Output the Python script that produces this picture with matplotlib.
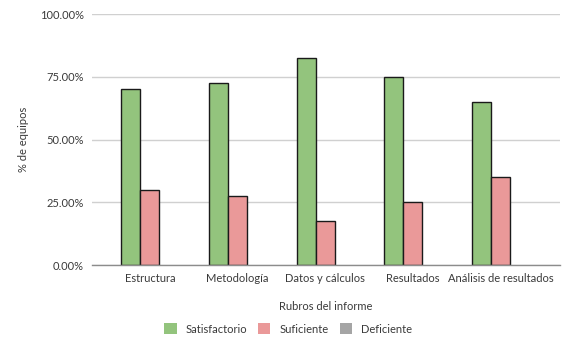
import matplotlib
matplotlib.use("Agg")
import matplotlib.pyplot as plt
from matplotlib.patches import Patch
from matplotlib.ticker import FuncFormatter
import numpy as np

plt.rcParams['font.family'] = ['Lato', 'DejaVu Sans']

categories = ['Estructura', 'Metodología', 'Datos y cálculos', 'Resultados',
              'Análisis de resultados']
series_names = ['Satisfactorio', 'Suficiente', 'Deficiente']
satisfactorio = [70.0, 72.5, 82.5, 75.0, 65.0]
suficiente = [30.0, 27.5, 17.5, 25.0, 35.0]
deficiente = [0.0, 0.0, 0.0, 0.0, 0.0]
colors = ['#93c47d', '#ea9999', '#a5a5a5']

fig = plt.figure(figsize=(5.67, 3.46), dpi=100)
ax = fig.add_axes([0.1623, 0.2341, 0.8254, 0.7254])

x = np.arange(len(categories))
width = 0.217
for i, vals in enumerate([satisfactorio, suficiente, deficiente]):
    # empty bars draw no outline
    lw = [1.0 if v > 0 else 0 for v in vals]
    ax.bar(x + (i - 1) * width, vals, width, color=colors[i],
           edgecolor='#1a1a1a', linewidth=lw, zorder=3)

ax.set_xlim(-0.66, 4.68)
ax.set_ylim(0, 100)
ax.set_yticks([0, 25, 50, 75, 100])
ax.yaxis.set_major_formatter(FuncFormatter(lambda v, p: '{:.2f}%'.format(v)))
ax.set_xticks(x)
ax.set_xticklabels(categories)
ax.grid(axis='y', color='#d0d0d0', linewidth=1.0, zorder=0)
for s in ['top', 'right', 'left']:
    ax.spines[s].set_visible(False)
ax.spines['bottom'].set_color('#8c8c8c')
ax.spines['bottom'].set_linewidth(1.0)
ax.spines['bottom'].set_zorder(4)
ax.tick_params(axis='both', length=0, labelsize=8, colors='#3a3a3a')
ax.tick_params(axis='x', pad=6)
ax.tick_params(axis='y', pad=6)

ax.set_ylabel('% de equipos', fontsize=8, color='#3a3a3a', labelpad=8)
fig.text(326 / 567, 1 - 306 / 346, 'Rubros del informe', ha='center',
         va='center', fontsize=8, color='#3a3a3a')

handles = [Patch(facecolor=c, edgecolor='none') for c in colors]
fig.legend(handles, series_names, loc='center', ncol=3, frameon=False,
           bbox_to_anchor=(288 / 567, 1 - 329 / 346), fontsize=8,
           handlelength=1.1, handleheight=1.1, columnspacing=1.0,
           handletextpad=0.8, labelcolor='#3a3a3a')

fig.savefig('out.png', dpi=100, facecolor='white')
